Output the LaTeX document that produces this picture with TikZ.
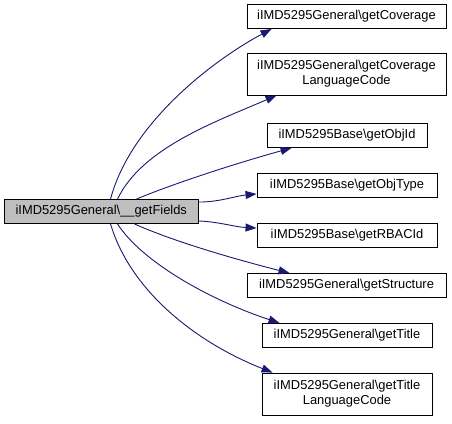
\documentclass[tikz,border=0pt]{standalone}
\usepackage{fontspec}
\setmainfont{Liberation Sans}
\usetikzlibrary{arrows.meta}
\definecolor{edgeblue}{HTML}{191970}
\definecolor{mainfill}{HTML}{BFBFBF}
\tikzset{
  box/.style={draw=black, line width=0.9pt, fill=white, rectangle, inner sep=0pt,
    align=center, font=\fontsize{12.9}{15}\selectfont},
  mainbox/.style={box, fill=mainfill},
  edge/.style={draw=edgeblue, line width=0.9pt,
    -{Triangle[length=11pt,width=8pt]}, shorten >=0pt}
}
\begin{document}
\begin{tikzpicture}[x=1pt,y=-1pt]
\useasboundingbox (0,0) rectangle (452,423);
\node[mainbox, minimum width=194.5pt, minimum height=24pt] (main) at (101.25,211.5) {iIMD5295General\textbackslash\_\_getFields};
\node[box, minimum width=199pt, minimum height=24pt] (cov) at (346.5,16.5) {iIMD5295General\textbackslash getCoverage};
\node[box, minimum width=199pt, minimum height=42pt] (covlc) at (346.5,74) {iIMD5295General\textbackslash getCoverage\\LanguageCode};
\node[box, minimum width=160pt, minimum height=24pt] (objid) at (347,135.5) {iIMD5295Base\textbackslash getObjId};
\node[box, minimum width=180pt, minimum height=24pt] (objtype) at (347,185.5) {iIMD5295Base\textbackslash getObjType};
\node[box, minimum width=180pt, minimum height=24pt] (rbac) at (347,235.5) {iIMD5295Base\textbackslash getRBACId};
\node[box, minimum width=199pt, minimum height=24pt] (struct) at (346.5,285.5) {iIMD5295General\textbackslash getStructure};
\node[box, minimum width=170pt, minimum height=24pt] (title) at (347,335.5) {iIMD5295General\textbackslash getTitle};
\node[box, minimum width=170pt, minimum height=42pt] (titlelc) at (347,394) {iIMD5295General\textbackslash getTitle\\LanguageCode};

\draw[edge] ([xshift=107pt]main.north west) .. controls (130,125) and (210,62) .. ([xshift=25pt]cov.south west);
\draw[edge] ([xshift=114pt]main.north west) .. controls (142,148) and (215,122) .. ([xshift=30pt]covlc.south west);
\draw[edge] ([xshift=133pt]main.north west) .. controls (170,185) and (230,165) .. ([xshift=25pt]objid.south west);
\draw[edge] ([yshift=-3pt]main.north east) .. controls (220,202) and (235,196) .. ([yshift=4pt]objtype.south west);
\draw[edge] ([yshift=3pt]main.south east) .. controls (220,222) and (235,227) .. ([yshift=-5pt]rbac.north west);
\draw[edge] ([xshift=131pt]main.south west) .. controls (170,240) and (230,258) .. ([xshift=43pt]struct.north west);
\draw[edge] ([xshift=114pt]main.south west) .. controls (142,262) and (210,300) .. ([xshift=18pt]title.north west);
\draw[edge] ([xshift=107pt]main.south west) .. controls (130,290) and (195,342) .. ([xshift=11pt]titlelc.north west);
\end{tikzpicture}
\end{document}
